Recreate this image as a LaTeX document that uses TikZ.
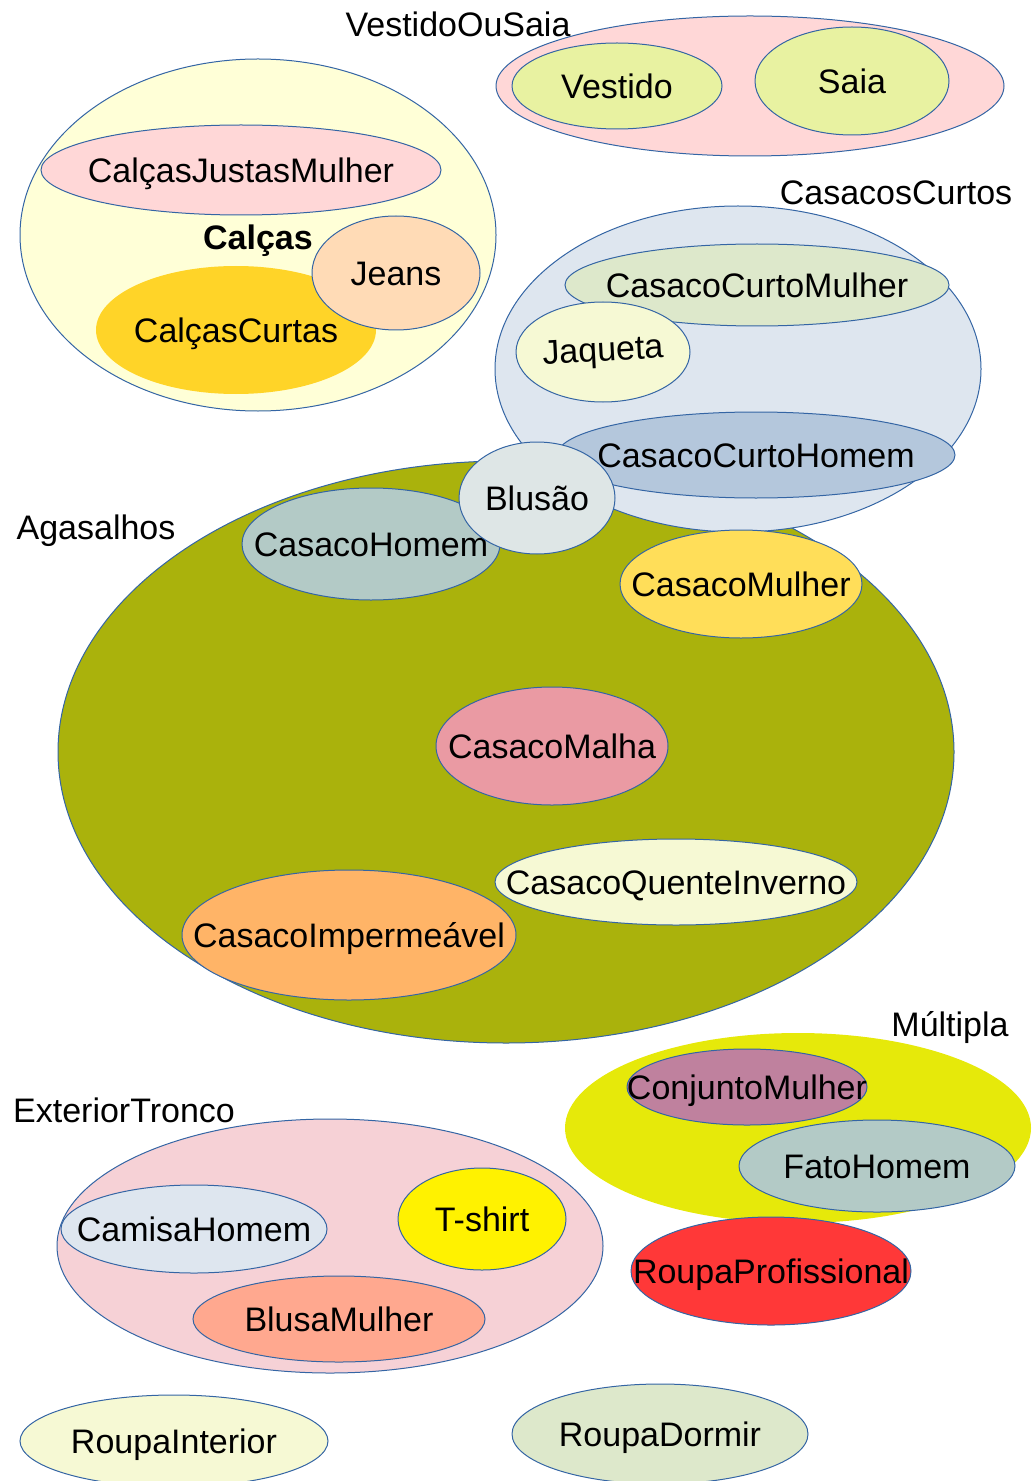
\documentclass[tikz,border=0pt]{standalone}
\usepackage{fontspec}
\setmainfont{Liberation Sans}
\usetikzlibrary{shapes.geometric}
\definecolor{setline}{HTML}{3465A4}
\definecolor{cCalcas}{HTML}{FFFFD7}
\definecolor{cPinkL}{HTML}{FFD7D7}
\definecolor{cGold}{HTML}{FFD428}
\definecolor{cPeach}{HTML}{FFDBB6}
\definecolor{cLime}{HTML}{E8F2A1}
\definecolor{cBlueL}{HTML}{DEE6EF}
\definecolor{cSage}{HTML}{DDE8CB}
\definecolor{cCream}{HTML}{F6F9D4}
\definecolor{cBlueM}{HTML}{B4C7DC}
\definecolor{cOlive}{HTML}{AAB20C}
\definecolor{cTeal}{HTML}{B3CAC6}
\definecolor{cGrayL}{HTML}{DEE6E6}
\definecolor{cYellowM}{HTML}{FFDE59}
\definecolor{cRose}{HTML}{EA9AA3}
\definecolor{cOrange}{HTML}{FFB467}
\definecolor{cChart}{HTML}{E6E90A}
\definecolor{cMauve}{HTML}{BF819E}
\definecolor{cRed}{HTML}{FF3838}
\definecolor{cPinkT}{HTML}{F6D1D6}
\definecolor{cSalmon}{HTML}{FFA88F}
\begin{document}
\begin{tikzpicture}[x=0.5pt,y=-0.5pt,
  setnode/.style={ellipse, draw=setline, line width=0.5pt, inner sep=0pt, font=\fontsize{17}{20}\selectfont},
  nostroke/.style={draw=none},
  grouplabel/.style={inner sep=0pt, font=\fontsize{17}{20}\selectfont}]
\useasboundingbox (0,0) rectangle (1034,1481);
\newcommand{\mk}[1]{\makebox[0pt]{\smash{\raisebox{-0.36em}{#1}}}}
% Calcas
\node[setnode, fill=cCalcas, minimum width=238pt, minimum height=176pt] (calcas) at (258,235) {};
\node[setnode, fill=cPinkL, minimum width=200pt, minimum height=45pt] (cjm) at (241,170) {\mk{CalçasJustasMulher}};
\node[setnode, nostroke, fill=cGold, minimum width=140pt, minimum height=64pt] (ccurtas) at (236,330) {\mk{CalçasCurtas}};
\node[setnode, fill=cPeach, minimum width=84pt, minimum height=57pt] (jeans) at (396,273) {\mk{Jeans}};
\node[grouplabel, font=\fontsize{17}{20}\selectfont\bfseries] (lcalcas) at (258,237) {\mk{Calças}};
% VestidoOuSaia
\node[grouplabel] (lvs) at (458,24) {\mk{VestidoOuSaia}};
\node[setnode, fill=cPinkL, minimum width=254pt, minimum height=70pt] (vs) at (750,86) {};
\node[setnode, fill=cLime, minimum width=105pt, minimum height=43pt] (vestido) at (617,86) {\mk{Vestido}};
\node[setnode, fill=cLime, minimum width=97pt, minimum height=54pt] (saia) at (852,81) {\mk{Saia}};
% Agasalhos
\node[grouplabel] (lag) at (96,527) {\mk{Agasalhos}};
\node[setnode, fill=cOlive, minimum width=448pt, minimum height=291pt] (agas) at (506,752) {};
% CasacosCurtos
\node[grouplabel] (lcc) at (896,192) {\mk{CasacosCurtos}};
\node[setnode, fill=cBlueL, minimum width=243pt, minimum height=163pt] (cc) at (738,369) {};
\node[setnode, fill=cSage, minimum width=192pt, minimum height=41pt] (ccm) at (757,285) {\mk{CasacoCurtoMulher}};
\node[setnode, fill=cCream, minimum width=87pt, minimum height=50pt] (jaq) at (603,352) {\mk{\rotatebox{3}{Jaqueta}}};
\node[setnode, fill=cBlueM, minimum width=199pt, minimum height=43pt] (cch) at (756,455) {\mk{CasacoCurtoHomem}};
% inside Agasalhos
\node[setnode, fill=cTeal, minimum width=129pt, minimum height=56pt] (ch) at (371,544) {\mk{CasacoHomem}};
\node[setnode, fill=cGrayL, minimum width=78pt, minimum height=56pt] (blusao) at (537,498) {\mk{Blusão}};
\node[setnode, fill=cYellowM, minimum width=121pt, minimum height=54pt] (cm) at (741,584) {\mk{CasacoMulher}};
\node[setnode, fill=cRose, minimum width=116pt, minimum height=59pt] (cmalha) at (552,746) {\mk{CasacoMalha}};
\node[setnode, fill=cCream, minimum width=181pt, minimum height=43pt] (cqi) at (676,882) {\mk{CasacoQuenteInverno}};
\node[setnode, fill=cOrange, minimum width=167pt, minimum height=65pt] (cimp) at (349,935) {\mk{CasacoImpermeável}};
% Multipla
\node[grouplabel] (lmul) at (950,1024) {\mk{Múltipla}};
\node[setnode, nostroke, fill=cChart, minimum width=233pt, minimum height=95pt] (mul) at (798,1128) {};
\node[setnode, fill=cMauve, minimum width=120pt, minimum height=38pt] (conj) at (747,1087) {\mk{ConjuntoMulher}};
\node[setnode, fill=cTeal, minimum width=138pt, minimum height=46pt] (fato) at (877,1166) {\mk{FatoHomem}};
\node[setnode, fill=cRed, minimum width=140pt, minimum height=54pt] (rprof) at (771,1271) {\mk{RoupaProfissional}};
% ExteriorTronco
\node[grouplabel] (lext) at (124,1110) {\mk{ExteriorTronco}};
\node[setnode, fill=cPinkT, minimum width=273pt, minimum height=127pt] (ext) at (330,1246) {};
\node[setnode, fill=cBlueL, minimum width=133pt, minimum height=44pt] (camisa) at (194,1229) {\mk{CamisaHomem}};
\node[setnode, fill=yellow, minimum width=84pt, minimum height=51pt] (tshirt) at (482,1219) {\mk{T-shirt}};
\node[setnode, fill=cSalmon, minimum width=146pt, minimum height=43pt] (blusa) at (339,1319) {\mk{BlusaMulher}};
% bottom
\node[setnode, fill=cCream, minimum width=154pt, minimum height=46pt] (rint) at (174,1441) {\mk{RoupaInterior}};
\node[setnode, fill=cSage, minimum width=148pt, minimum height=50pt] (rdorm) at (660,1434) {\mk{RoupaDormir}};
\end{tikzpicture}
\end{document}
